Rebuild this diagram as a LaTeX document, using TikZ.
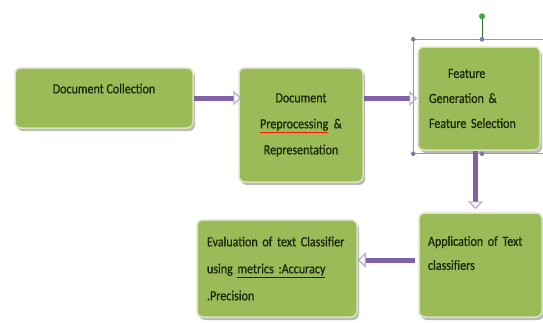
\documentclass[tikz,border=0pt]{standalone}
\usepackage{fontspec}
\setmainfont{Carlito}[FakeStretch=0.86, FakeBold=0.6]
\usepackage{xcolor}
\usetikzlibrary{calc, positioning, arrows.meta, shadows}

\definecolor{boxgreen}{HTML}{9BBB59}
\definecolor{boxrim}{HTML}{D8E4BC}
\definecolor{flowpurple}{HTML}{7E62A8}
\definecolor{flowlilac}{HTML}{B9A9D6}
\definecolor{txtdark}{HTML}{1A2608}
\definecolor{selblue}{HTML}{8C9CC0}
\definecolor{handleblue}{HTML}{6F7FA8}
\definecolor{rotgreen}{HTML}{3DAA3D}

\begin{document}
\begin{tikzpicture}[x=1pt, y=-1pt, every node/.style={font=\fontsize{14}{26}\selectfont, text=txtdark, inner sep=0pt},
    stagebox/.style={draw=boxrim, line width=1.5pt, fill=boxgreen, rounded corners=6pt,
        drop shadow={shadow xshift=2pt, shadow yshift=-3pt, fill=black!45, opacity=0.6}},
    flow/.style={line width=5pt, draw=flowpurple,
        -{Triangle[open, length=8pt, width=15pt, line width=1.2pt, color=flowlilac]}}]
    \useasboundingbox (0,0) rectangle (543,322);

    % stages
    \node[stagebox, minimum width=178pt, minimum height=60pt, align=center] (collect) at (104,98) {Document Collection\\[-7pt]\mbox{}};
    \node[stagebox, minimum width=124pt, minimum height=114pt, align=center] (prep) at (301,125)
        {Document\\\textcolor{red!80!orange}{\underline{\textcolor{txtdark}{Preprocessing}}}~\ \&\\Representation};
    \node[stagebox, minimum width=122pt, minimum height=103pt, text width=100pt, align=left] (feat) at (479,98.5)
        {\hspace*{19pt}Feature\\[-1pt]Generation \&\\[-1pt]Feature Selection};
    \node[stagebox, minimum width=123pt, minimum height=104pt, text width=105pt, align=left,
        font=\fontsize{14}{24}\selectfont] (apply) at (480.5,265) {Application of Text\\classifiers\\\mbox{}};
    \node[stagebox, minimum width=160pt, minimum height=97pt, text width=140pt, align=left,
        font=\fontsize{14}{27}\selectfont] (eval) at (277,268.5)
        {Evaluation of text Classifier\\using \underline{metrics :Accuracy}\\.Precision};

    % selection frame round feat
    \coordinate (selNW) at ($(feat.north west)+(-4,-7)$);
    \coordinate (selSE) at ($(feat.south east)+(10,3)$);
    \coordinate (selN) at ($(selNW)!0.5!(selNW -| selSE)$);
    \coordinate (selS) at ($(selNW |- selSE)!0.5!(selSE)$);
    \coordinate (rot) at ($(selN)+(0,-23)$);
    \draw[selblue, line width=0.6pt] (selNW) rectangle (selSE);
    \draw[rotgreen!70!black, line width=0.6pt] (rot) -- (selN);
    \fill[rotgreen] (rot) circle (3pt);
    \foreach \h in {selNW, selN, selS, selNW |- selSE} {
        \fill[handleblue] (\h) circle (2.3pt);
    }

    % flow arrows
    \draw[flow] (collect.east) -- ($(collect.east -| prep.west)+(3,0)$);
    \draw[flow] (prep.east |- feat.west) -- (feat.west);
    \draw[flow] (feat.south -| apply.north) ++(-5,0) -- ($(apply.north)+(-5,-3)$);
    \draw[flow] ($(apply.west)+(-3,-5)$) -- ($(apply.west -| eval.east)+(0,-5)$);
\end{tikzpicture}
\end{document}
